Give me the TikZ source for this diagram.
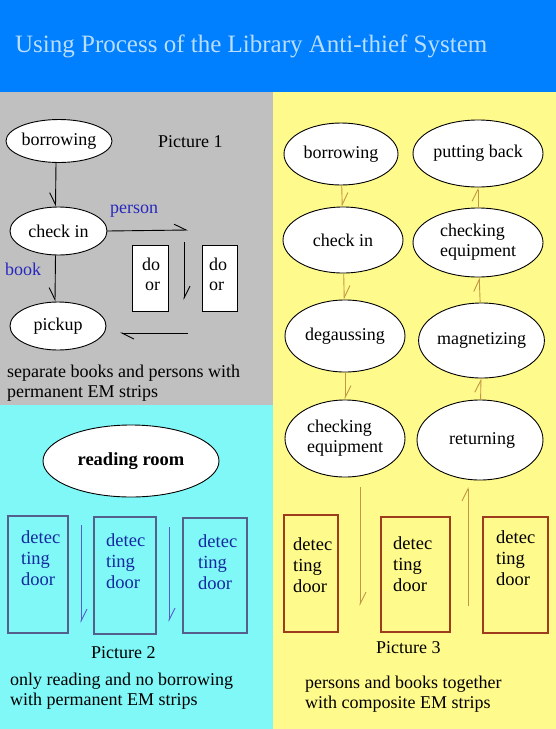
\documentclass[tikz,border=0pt]{standalone}
\usepackage{fontspec}
\setmainfont{Liberation Serif}
\usetikzlibrary{shapes.geometric,arrows.meta}
\definecolor{titleblue}{RGB}{0,128,255}
\definecolor{titletext}{RGB}{185,222,255}
\definecolor{pgray}{RGB}{192,192,192}
\definecolor{pcyan}{RGB}{128,248,248}
\definecolor{pyellow}{RGB}{255,250,140}
\definecolor{lblblue}{RGB}{40,40,190}
\definecolor{doorblue}{RGB}{85,95,140}
\definecolor{dtextblue}{RGB}{20,40,160}
\definecolor{arrblue}{RGB}{90,90,200}
\definecolor{doorbrown}{RGB}{160,60,30}
\definecolor{arrgold}{RGB}{195,150,70}
\begin{document}
\begin{tikzpicture}[x=1pt,y=-1pt,
  txt/.style={font=\fontsize{18}{20}\selectfont, inner sep=0pt},
  oval/.style={ellipse, draw=black, fill=white, line width=0.9pt, inner sep=0pt, txt},
  hp/.style={-{Straight Barb[harpoon,length=12pt,width=12pt]}, line width=0.9pt},
  hpr/.style={-{Straight Barb[harpoon,swap,length=12pt,width=12pt]}, line width=0.9pt},
  gdoor/.style={rectangle, draw=black, fill=white, line width=0.9pt, inner sep=0pt},
  cdoor/.style={rectangle, draw=doorblue, line width=1.1pt, inner sep=0pt},
  ydoor/.style={rectangle, draw=doorbrown, line width=1.1pt, inner sep=0pt},
  dtext/.style={txt, align=left, font=\fontsize{18.5}{21}\selectfont},
]
\useasboundingbox (0,0) rectangle (556,729);
% panels
\fill[titleblue] (0,0) rectangle (556,92);
\fill[pgray] (0,92) rectangle (273,405);
\fill[pcyan] (0,405) rectangle (273,729);
\fill[pyellow] (273,92) rectangle (556,729);
\node[anchor=base west, inner sep=0pt, text=titletext, font=\fontsize{25}{30}\selectfont] (title) at (15,52) {Using Process of the Library Anti-thief System};

% ---------- Picture 1 ----------
\node[oval, minimum width=95pt, minimum height=43pt] (b1) at (59,141) {borrowing};
\node[oval, minimum width=97pt, minimum height=48pt] (c1) at (58.5,231) {check in};
\node[oval, minimum width=96pt, minimum height=48pt] (p1) at (58,326) {pickup};
\node[txt, anchor=base west] (pic1) at (158,147) {Picture 1};
\node[txt, anchor=base west, text=lblblue] (person) at (110,213) {person};
\node[txt, anchor=base west, text=lblblue] (book) at (5,275) {book};
\node[gdoor, minimum width=36pt, minimum height=66pt] (g1) at (150,278) {};
\node[gdoor, minimum width=35pt, minimum height=66pt] (g2) at (219.5,278) {};
\node[txt, anchor=base west, align=left] (g1t) at (142,290) {do\\\,or};
\node[txt, anchor=base west, align=left] (g2t) at (209,290) {do\\or};
\coordinate (pa) at (188,230);
\coordinate (da1) at (184,242);
\coordinate (da2) at (184,300);
\coordinate (ra1) at (188,333);
\coordinate (ra2) at (120,333);
\draw[hpr] ([xshift=-3pt]b1.south) -- ([xshift=-3pt]c1.north);
\draw[hpr] ([xshift=-3pt]c1.south) -- ([xshift=-3pt]p1.north);
\draw[hp] (c1.east) -- (pa);
\draw[hp] (da1) -- (da2);
\draw[hp] (ra1) -- (ra2);
\node[txt, anchor=base west, align=left] (cap1) at (7,397) {separate books and persons with\\permanent EM strips};

% ---------- Picture 2 ----------
\node[oval, minimum width=176pt, minimum height=72pt, font=\fontsize{18.5}{20}\selectfont\bfseries] (rr) at (131,461) {reading room};
\node[cdoor, minimum width=60pt, minimum height=117pt] (cd1) at (38,574.5) {};
\node[cdoor, minimum width=62pt, minimum height=117pt] (cd2) at (125,575.5) {};
\node[cdoor, minimum width=64pt, minimum height=115pt] (cd3) at (215,575.5) {};
\node[dtext, text=dtextblue, anchor=base west] (cd1t) at (21,585) {detec\\ting\\door};
\node[dtext, text=dtextblue, anchor=base west] (cd2t) at (106,588) {detec\\ting\\door};
\node[dtext, text=dtextblue, anchor=base west] (cd3t) at (198,589) {detec\\ting\\door};
\coordinate (ca1) at (81,525);
\coordinate (ca2) at (81,623);
\coordinate (ca3) at (169,527);
\coordinate (ca4) at (169,622);
\draw[hp, draw=arrblue] (ca1) -- (ca2);
\draw[hp, draw=arrblue] (ca3) -- (ca4);
\node[txt, anchor=base west] (pic2) at (91,658) {Picture 2};
\node[txt, anchor=base west, align=left] (cap2) at (10,705) {only reading and no borrowing\\with permanent EM strips};

% ---------- Picture 3 ----------
\node[oval, minimum width=114pt, minimum height=62pt] (yb) at (341,154) {borrowing};
\node[oval, minimum width=130pt, minimum height=67pt] (ypb) at (478,153.5) {putting back};
\node[oval, minimum width=120pt, minimum height=66pt] (yc) at (343,240) {check in};
\node[oval, minimum width=130pt, minimum height=69pt, align=left] (yce1) at (478,242.5) {checking\\equipment};
\node[oval, minimum width=120pt, minimum height=72pt] (yd) at (345,336) {degaussing};
\node[oval, minimum width=123pt, minimum height=75pt] (ym) at (481.5,340.5) {magnetizing};
\node[oval, minimum width=120pt, minimum height=77pt, align=left] (yce2) at (345,438.5) {checking\\equipment};
\node[oval, minimum width=126pt, minimum height=80pt] (yr) at (480,440) {\hspace*{4pt}returning};
\node[ydoor, minimum width=54pt, minimum height=117pt] (yd1) at (311,573.5) {};
\node[ydoor, minimum width=69pt, minimum height=115pt] (yd2) at (415.5,574.5) {};
\node[ydoor, minimum width=65pt, minimum height=116pt] (yd3) at (515.5,575) {};
\node[dtext, anchor=base west] (yd1t) at (293,592) {detec\\ting\\door};
\node[dtext, anchor=base west] (yd2t) at (393,591) {detec\\ting\\door};
\node[dtext, anchor=base west] (yd3t) at (496,585) {detec\\ting\\door};
\coordinate (ya1) at (360,487);
\coordinate (ya2) at (360,606);
\coordinate (ya3) at (468,606);
\coordinate (ya4) at (468,487);
\draw[hp, draw=arrgold] (yb) -- (yc);
\draw[hp, draw=arrgold] (yc) -- (yd);
\draw[hp, draw=arrgold] (yd) -- (yce2);
\draw[hp, draw=arrgold] (ya1) -- (ya2);
\draw[hp, draw=arrgold] (ya3) -- (ya4);
\draw[hp, draw=arrgold] (yr) -- (ym);
\draw[hp, draw=arrgold] (ym) -- (yce1);
\draw[hp, draw=arrgold] (yce1) -- (ypb);
\node[txt, anchor=base west] (pic3) at (376,653) {Picture 3};
\node[txt, anchor=base west, align=left] (cap3) at (305,708) {persons and books together\\with composite EM strips};
\end{tikzpicture}
\end{document}
